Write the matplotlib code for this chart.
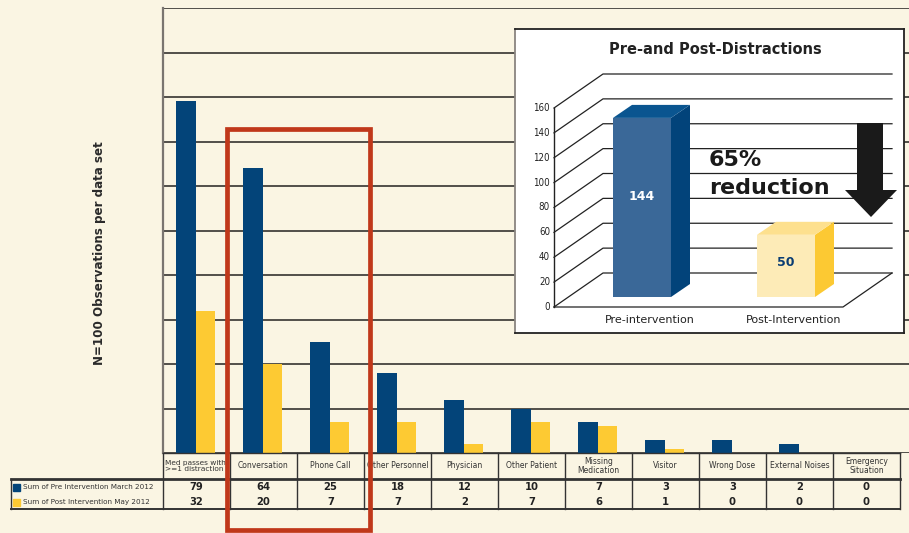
import matplotlib
matplotlib.use("Agg")
import matplotlib.pyplot as plt
from matplotlib.patches import Polygon, Rectangle
from matplotlib.transforms import blended_transform_factory

# ---------------- data ----------------
categories = ["Med passes with\n>=1 distraction", "Conversation", "Phone Call",
              "Other Personnel", "Physician", "Other Patient", "Missing\nMedication",
              "Visitor", "Wrong Dose", "External Noises", "Emergency\nSituation"]
pre_values = [79, 64, 25, 18, 12, 10, 7, 3, 3, 2, 0]
post_values = [32, 20, 7, 7, 2, 7, 6, 1, 0, 0, 0]
series_names = ["Sum of Pre Intervention March 2012", "Sum of Post Intervention May 2012"]

inset_labels = ["Pre-intervention", "Post-Intervention"]
inset_values = [144, 50]
inset_ticks = [0, 20, 40, 60, 80, 100, 120, 140, 160]

BG = "#faf5e3"
BLUE = "#034479"
YELLOW = "#fdca33"
RED = "#c0381a"

W, H = 909, 533
fig = plt.figure(figsize=(W / 100, H / 100), dpi=100, facecolor=BG)


def fx(px):
    return px / W


def fy(py):
    return 1 - py / H


# ---------------- main axes ----------------
L, R, T, B = 163, 909, 8, 453
colw = 67.0
ax = fig.add_axes([fx(L), fy(B), (R - L) / W, (B - T) / H])
ax.set_facecolor(BG)
ax.set_xlim(-0.5, -0.5 + (R - L) / colw)
ax.set_ylim(0, 100)
ax.set_yticks(range(0, 101, 10))
ax.set_yticklabels([])
ax.set_xticks([])
ax.tick_params(length=0)
for s in ["top", "right", "bottom"]:
    ax.spines[s].set_visible(False)
ax.spines["left"].set_color("#7a7570")
ax.spines["left"].set_linewidth(1.6)
ax.grid(axis="y", color="#34322e", linewidth=1.4, alpha=0.85)
ax.set_axisbelow(True)

xs = list(range(len(categories)))
bw = 0.29
ax.bar([x - bw / 2 - 0.01 for x in xs], pre_values, width=bw, color=BLUE, zorder=3)
ax.bar([x + bw / 2 - 0.01 for x in xs], post_values, width=bw, color=YELLOW, zorder=3)

fig.text(fx(100), fy(253), "N=100 Observations per data set", rotation=90,
         ha="center", va="center", fontsize=8.6, fontweight="bold", color="#2a2a2a")

# ---------------- data table ----------------
tr = blended_transform_factory(ax.transData, fig.transFigure)
n = len(categories)
x_left_lab = -0.5 + (11 - L) / colw
x_right = n - 0.5
y_h0, y_h1, y_d1 = fy(453), fy(479), fy(509)
lc = "#333333"
lines = [
    ([-0.5, x_right], [y_h0, y_h0], 1.0),
    ([x_left_lab, x_right], [y_h1, y_h1], 2.0),
    ([x_left_lab, x_right], [y_d1, y_d1], 1.4),
    ([x_left_lab, x_left_lab], [y_h1, y_d1], 1.0),
]
for i in range(n + 1):
    lines.append(([i - 0.5, i - 0.5], [y_h0, y_d1], 1.0))
for xx, yy, lw in lines:
    ax.plot(xx, yy, transform=tr, color=lc, lw=lw, clip_on=False, zorder=4)

for i, (cat, a, b) in enumerate(zip(categories, pre_values, post_values)):
    if i == 0:
        ax.text(i - 0.47, fy(466), cat, transform=tr, ha="left", va="center",
                fontsize=5.3, color="#333333", linespacing=0.95)
    else:
        ax.text(i, fy(466), cat, transform=tr, ha="center", va="center",
                fontsize=5.5, color="#333333", linespacing=0.95)
    ax.text(i, fy(487), str(a), transform=tr, ha="center", va="center",
            fontsize=8, fontweight="bold", stretch="condensed", color="#222222")
    ax.text(i, fy(502), str(b), transform=tr, ha="center", va="center",
            fontsize=8, fontweight="bold", stretch="condensed", color="#222222")

for name, col, yy in zip(series_names, [BLUE, YELLOW], [487, 502]):
    fig.patches.append(Rectangle((fx(13), fy(yy + 3.5)), 7 / W, 7 / H,
                                 transform=fig.transFigure, color=col, zorder=5))
    fig.text(fx(23), fy(yy), name, ha="left", va="center", fontsize=5.2, color="#333333")

# red highlight rectangle
rx0 = -0.5 + (227 - L) / colw
rx1 = -0.5 + (370 - L) / colw
ry0 = (B - 530) / ((B - T) / 100)
ry1 = (B - 129) / ((B - T) / 100)
ax.add_patch(Rectangle((rx0, ry0), rx1 - rx0, ry1 - ry0, fill=False, edgecolor=RED,
                       linewidth=3.4, clip_on=False, zorder=10))

# ---------------- inset ----------------
IL, IT, IR, IB = 515, 29, 904, 333
ia = fig.add_axes([fx(IL), fy(IB), (IR - IL) / W, (IB - IT) / H])
PX = 199 / 160.0
y_floor = 307
ia.set_xlim(0, IR - IL)
ia.set_ylim(-(IB - y_floor) / PX, (y_floor - IT) / PX)
ia.set_facecolor("white")
ia.set_xticks([])
ia.set_yticks([])
for s in ia.spines.values():
    s.set_color("#222222")
    s.set_linewidth(1.3)
ia.spines["left"].set_color("#8a8580")

FX0, DXB = 39, 49
DY = 34 / PX
XEND, XFLOOR = 377, 328
gc = "#222222"
for v in inset_ticks:
    ia.plot([FX0, FX0 + DXB, XEND], [v, v + DY, v + DY], color=gc, lw=0.9)
    ia.text(FX0 - 4, v, str(v), ha="right", va="center", fontsize=7,
            stretch="condensed", color="#222222")
ia.plot([FX0, FX0], [0, inset_ticks[-1]], color=gc, lw=1.0)
ia.plot([FX0, XFLOOR, XEND], [0, 0, DY], color=gc, lw=0.9)

base = 10 / PX
ddx, ddy = 19, 13 / PX
bar_x0 = [98, 242]
bar_w = 58
face_cols = [("#3a6898", "#02437a", "#0a5590"), ("#fdebb7", "#fcc933", "#fde08e")]
txt_cols = ["white", "#0a3d73"]
for x0, v, (cf, cs, ct), tc, lab in zip(bar_x0, inset_values, face_cols, txt_cols, inset_labels):
    x1 = x0 + bar_w
    ia.add_patch(Polygon([(x0, base), (x1, base), (x1, base + v), (x0, base + v)],
                         closed=True, facecolor=cf, edgecolor="none", zorder=3))
    ia.add_patch(Polygon([(x1, base), (x1 + ddx, base + ddy), (x1 + ddx, base + v + ddy),
                          (x1, base + v)], closed=True, facecolor=cs, edgecolor="none", zorder=3))
    ia.add_patch(Polygon([(x0, base + v), (x1, base + v), (x1 + ddx, base + v + ddy),
                          (x0 + ddx, base + v + ddy)], closed=True, facecolor=ct,
                         edgecolor="none", zorder=3))
    ia.text((x0 + x1) / 2, base + v * 0.56, str(v), ha="center", va="center",
            fontsize=9, fontweight="bold", color=tc, zorder=4)
    ia.text((x0 + x1) / 2 + 8, -(320 - y_floor) / PX, lab, ha="center", va="center",
            fontsize=8, color="#222222")

ia.text(200, (y_floor - 49) / PX, "Pre-and Post-Distractions", ha="center", va="center",
        fontsize=10.5, fontweight="bold", color="#222222")
ia.text(194, (y_floor - 160) / PX, "65%", ha="left", va="center", fontsize=16,
        fontweight="bold", color="#1a1a1a", zorder=5)
ia.text(194, (y_floor - 188) / PX, "reduction", ha="left", va="center", fontsize=16,
        fontweight="bold", color="#1a1a1a", zorder=5)


def iy(py):
    return (y_floor - py) / PX


arrow = [(342, iy(123)), (368, iy(123)), (368, iy(190)), (382, iy(190)),
         (356, iy(217)), (330, iy(190)), (342, iy(190))]
ia.add_patch(Polygon(arrow, closed=True, facecolor="#1a1a1a", edgecolor="none", zorder=5))

fig.savefig("out.png", dpi=100, facecolor=BG)
